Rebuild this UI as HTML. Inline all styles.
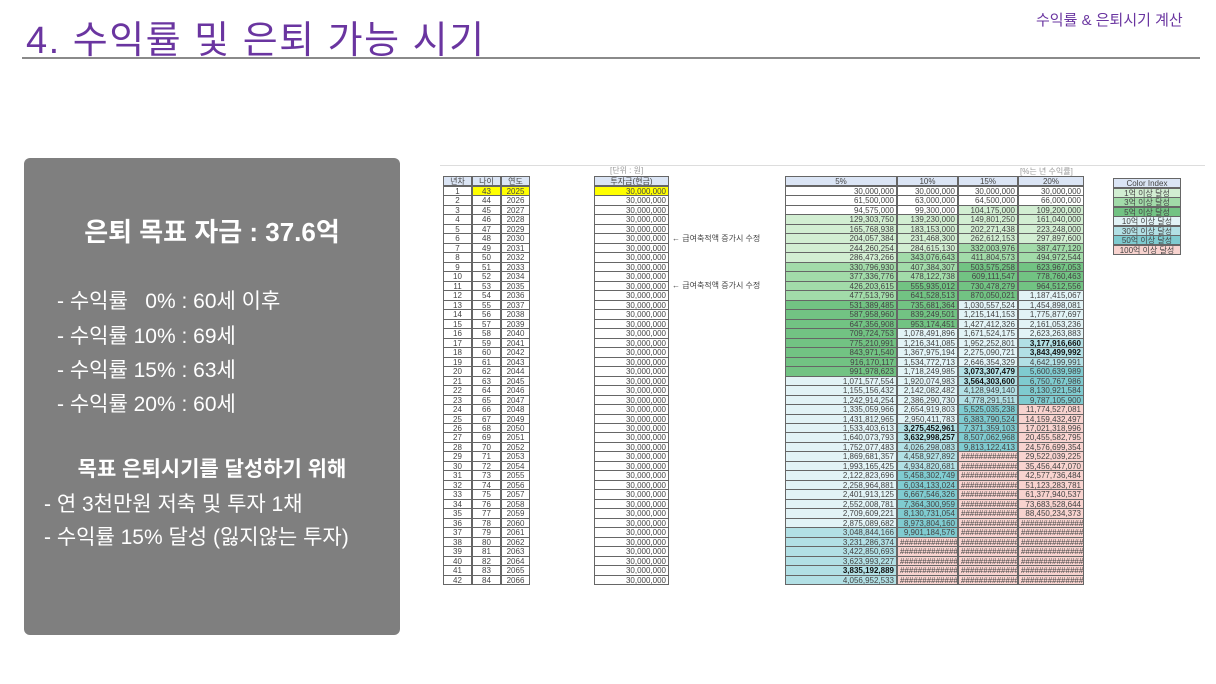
<!DOCTYPE html>
<html><head><meta charset="utf-8">
<style>
body{margin:0;width:1216px;height:684px;background:#fff;position:relative;overflow:hidden;font-family:"Liberation Sans","Noto Sans CJK KR",sans-serif}
.a{position:absolute}
#t div{position:absolute;box-sizing:border-box;font-size:8px;line-height:9px;white-space:nowrap;color:#444;overflow:hidden}
.p{color:#fff;font-size:21px;position:absolute;white-space:nowrap}
</style></head><body>
<div class="a" style="left:26px;top:9px;font-size:38px;color:#6a35a0;letter-spacing:1.5px">4. 수익률 및 은퇴 가능 시기</div>
<div class="a" style="left:1036px;top:9px;font-size:15px;color:#6a35a0">수익률 &amp; 은퇴시기 계산</div>
<div class="a" style="left:22px;top:57px;width:1178px;height:2px;background:#8a8a8a"></div>
<div class="a" style="left:24px;top:158px;width:376px;height:477px;background:#7f7f7f;border-radius:6px"></div>
<div class="p" style="left:24px;width:376px;text-align:center;top:212px;font-size:26px;font-weight:bold">은퇴 목표 자금 : 37.6억</div>
<div class="p" style="left:57px;top:285px">- 수익률 &nbsp;&nbsp;0% : 60세 이후</div>
<div class="p" style="left:57px;top:320px">- 수익률 10% : 69세</div>
<div class="p" style="left:57px;top:354px">- 수익률 15% : 63세</div>
<div class="p" style="left:57px;top:388px">- 수익률 20% : 60세</div>
<div class="p" style="left:24px;width:376px;text-align:center;top:453px;font-weight:bold">목표 은퇴시기를 달성하기 위해</div>
<div class="p" style="left:44px;top:488px">- 연 3천만원 저축 및 투자 1채</div>
<div class="p" style="left:44px;top:521px">- 수익률 15% 달성 (잃지않는 투자)</div>
<div class="a" style="left:440px;top:165px;width:765px;height:1px;background:#ddd"></div>
<div id="t"></div>
<script>
var t=document.getElementById('t'),h='';
function c(x,y,w,hh,txt,bg,al,b,col){h+='<div style="left:'+x+'px;top:'+y+'px;width:'+w+'px;height:'+hh+'px;background:'+(bg||'#fff')+';border:1px solid #666;text-align:'+(al||'center')+';padding:0 2px;'+(b?'font-weight:bold;color:#111;':'')+(col?'color:'+col+';':'')+'">'+txt+'</div>';}
h+='<div style="left:610px;top:166px;color:#999">[단위 : 원]</div>';
h+='<div style="left:1020px;top:167px;color:#999">[%는 년 수익률]</div>';
var y0=176,rh=9.48;
var hb='#dbe5f5';
c(443,y0,29,10,'년차',hb);c(472,y0,29,10,'나이',hb);c(501,y0,29,10,'연도',hb);
c(594,y0,75,10,'투자금(현금)',hb);
var cols=[[785,112,.05,1e99],[897,61,.10,1e10],[958,60,.15,1e10],[1018,66,.20,1e11]];
var names=['5%','10%','15%','20%'];
cols.forEach(function(k,i){c(k[0],y0,k[1],10,names[i],hb)});
var v=[0,0,0,0];
var bold={'3_17':1,'3_18':1,'2_20':1,'2_21':1,'1_26':1,'1_27':1,'0_41':1};
function col(x){if(x>=1e10)return'#f8d3cf';if(x>=5e9)return'#7fcbd0';if(x>=3e9)return'#b2e0e5';if(x>=1e9)return'#e2f3f6';if(x>=5e8)return'#72c383';if(x>=3e8)return'#a2dba9';if(x>=1e8)return'#d2eed2';return'#fff';}
for(var n=1;n<=42;n++){
 var y=Math.round(y0+10+(n-1)*rh),hh=Math.round(y0+10+n*rh)-y+1;
 var yl=n==1?'#ffff00':'#fff';
 c(443,y,29,hh,n,'#fff');c(472,y,29,hh,42+n,yl);c(501,y,29,hh,2024+n,yl);
 c(594,y,75,hh,'30,000,000',yl,'right');
 cols.forEach(function(k,i){v[i]=v[i]*(1+k[2])+3e7;var r=Math.round(v[i]);
  var s=r>=k[3]?'##############':r.toLocaleString('en-US');
  c(k[0],y,k[1],hh,s,col(r),'right',bold[i+'_'+n]);});
}
h+='<div style="left:672px;top:234px">← 급여축적액 증가시 수정</div>';
h+='<div style="left:672px;top:281px">← 급여축적액 증가시 수정</div>';
var ci=[['Color Index',hb],['1억 이상 달성','#d2eed2'],['3억 이상 달성','#a2dba9'],['5억 이상 달성','#72c383'],['10억 이상 달성','#e2f3f6'],['30억 이상 달성','#b2e0e5'],['50억 이상 달성','#7fcbd0'],['100억 이상 달성','#f8d3cf']];
ci.forEach(function(q,i){c(1113,178+i*9.5,68,10,q[0],q[1])});
t.innerHTML=h;
</script>
</body></html>
